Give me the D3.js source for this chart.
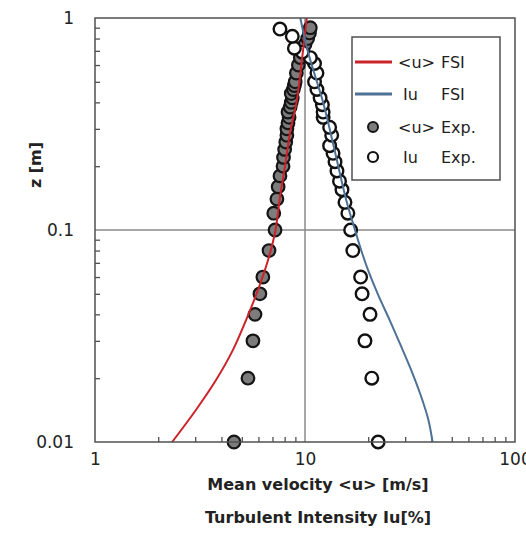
<!DOCTYPE html>
<html>
<head>
<meta charset="utf-8">
<script src="https://cdn.jsdelivr.net/npm/d3@7"></script>
<style>
	body { margin: 0; background: #fff; }
	svg { display: block; font-family: 'DejaVu Sans', sans-serif; }
	.lbl { white-space: pre; }
</style>
</head>
<body>
<div id="chart"></div>
<script>
// <u> FSI (simulation), mean velocity in m/s against height z in m
const fsiUZ = [0.01, 0.0142, 0.0196, 0.0272, 0.0376, 0.0521, 0.0722, 0.1, 0.143, 0.2, 0.29, 0.41, 0.63, 1.0];
const fsiU = [2.33, 3.03, 3.77, 4.54, 5.24, 5.97, 6.67, 7.24, 7.6, 8.03, 8.5, 9.15, 9.66, 10.2];

// Iu FSI (simulation), turbulent intensity in %
const fsiIuZ = [0.01, 0.0127, 0.0167, 0.0219, 0.0287, 0.0376, 0.0494, 0.0648, 0.0805, 0.1, 0.139, 0.2, 0.3, 0.4, 0.5, 0.7, 1.0];
const fsiIu = [40.5, 38.7, 35.5, 32.0, 28.5, 25.3, 22.3, 19.95, 18.5, 17.3, 15.7, 14.4, 13.1, 12.2, 11.4, 10.3, 9.5];

// <u> Exp. (measured)
const expUZ = [0.01, 0.02, 0.03, 0.04, 0.05, 0.06, 0.08, 0.1, 0.12, 0.14, 0.16, 0.18, 0.2, 0.22, 0.24, 0.26, 0.28, 0.3,
	0.32, 0.34, 0.36, 0.38, 0.4, 0.42, 0.44, 0.46, 0.48, 0.5, 0.55, 0.6, 0.65, 0.7, 0.75, 0.8, 0.85, 0.9];
const expU = [4.59, 5.35, 5.65, 5.78, 6.1, 6.3, 6.74, 7.2, 7.1, 7.35, 7.45, 7.6, 7.86, 7.9, 8.0, 8.1, 8.2, 8.2,
	8.3, 8.4, 8.3, 8.5, 8.6, 8.7, 8.6, 8.8, 8.9, 8.98, 9.1, 9.3, 9.5, 9.7, 10.0, 10.3, 10.5, 10.6];

// Iu Exp. (measured)
const expIuZ = [0.01, 0.02, 0.03, 0.04, 0.05, 0.06, 0.08, 0.1, 0.12, 0.135, 0.155, 0.17, 0.19, 0.21, 0.23, 0.25, 0.28,
	0.305, 0.34, 0.36, 0.39, 0.42, 0.46, 0.5, 0.55, 0.61, 0.65, 0.69, 0.72, 0.82, 0.887];
const expIu = [22.3, 20.8, 19.3, 20.4, 18.7, 18.4, 16.9, 16.5, 16.0, 15.5, 15.0, 14.6, 14.2, 13.9, 13.6, 13.1, 13.4,
	13.1, 12.2, 12.2, 12.1, 11.8, 11.4, 11.1, 11.4, 11.1, 10.6, 9.7, 8.9, 8.7, 7.6];

const xTicks = [1, 10, 100];
const yTicks = [0.01, 0.1, 1];
const xMinor = [2, 3, 4, 5, 6, 7, 8, 9, 20, 30, 40, 50, 60, 70, 80, 90];
const yMinor = [0.02, 0.03, 0.04, 0.05, 0.06, 0.07, 0.08, 0.09, 0.2, 0.3, 0.4, 0.5, 0.6, 0.7, 0.8, 0.9];
const legendLabels = [['<u>', 'FSI'], [' Iu', 'FSI'], ['<u>', 'Exp.'], [' Iu', 'Exp.']];
const xTitles = ['Mean velocity <u> [m/s]', 'Turbulent Intensity Iu[%]'];
const yTitle = 'z [m]';

const W = 526, H = 536;
const plot = {left: 95, right: 515, top: 18, bottom: 442};
const red = '#cc2229', blue = '#4e7196', axisColor = '#505050';

const svg = d3.select('#chart').append('svg')
	.attr('width', W)
	.attr('height', H);

const x = d3.scaleLog().domain([1, 100]).range([plot.left, plot.right]);
const y = d3.scaleLog().domain([0.01, 1]).range([plot.bottom, plot.top]);

// grid at the decade in the middle
svg.append('line')
	.attr('x1', x(10)).attr('x2', x(10))
	.attr('y1', plot.top).attr('y2', plot.bottom)
	.attr('stroke', '#8a8a8a').attr('stroke-width', 1.5);
svg.append('line')
	.attr('x1', plot.left).attr('x2', plot.right)
	.attr('y1', y(0.1)).attr('y2', y(0.1))
	.attr('stroke', '#8a8a8a').attr('stroke-width', 1.5);

// minor ticks pointing into the plot
const _minorAxis = (axis) => (g) => {
	g.call(axis);
	g.select('.domain').remove();
	g.selectAll('line').attr('stroke', axisColor).attr('stroke-width', 1.3);
	g.selectAll('text').remove();
};
svg.append('g')
	.attr('transform', `translate(0, ${plot.bottom})`)
	.call(_minorAxis(d3.axisBottom(x).tickValues(xMinor).tickSize(-5)));
svg.append('g')
	.attr('transform', `translate(${plot.left}, 0)`)
	.call(_minorAxis(d3.axisLeft(y).tickValues(yMinor).tickSize(-5)));

// tick labels
const _labelAxis = (axis) => (g) => {
	g.call(axis);
	g.select('.domain').remove();
	g.selectAll('line').remove();
	g.selectAll('text')
		.attr('font-family', 'DejaVu Sans, sans-serif')
		.attr('font-size', 17)
		.attr('fill', '#222');
};
svg.append('g')
	.attr('transform', `translate(0, ${plot.bottom})`)
	.call(_labelAxis(d3.axisBottom(x).tickValues(xTicks).tickSize(0).tickPadding(11).tickFormat(d3.format('d'))));
svg.append('g')
	.attr('transform', `translate(${plot.left}, 0)`)
	.call(_labelAxis(d3.axisLeft(y).tickValues(yTicks).tickSize(0).tickPadding(21).tickFormat(d => String(d))));

// measured points
const _points = (zs, vs) => zs.map((z, i) => ({z, v: vs[i]}));
svg.append('g')
	.selectAll('circle')
	.data(_points(expUZ, expU))
	.enter()
	.append('circle')
	.attr('cx', d => x(d.v))
	.attr('cy', d => y(d.z))
	.attr('r', 6.3)
	.attr('fill', '#7c7c7c')
	.attr('stroke', '#151515')
	.attr('stroke-width', 2.2);
svg.append('g')
	.selectAll('circle')
	.data(_points(expIuZ, expIu))
	.enter()
	.append('circle')
	.attr('cx', d => x(d.v))
	.attr('cy', d => y(d.z))
	.attr('r', 6.3)
	.attr('fill', '#fff')
	.attr('stroke', '#111')
	.attr('stroke-width', 2.4);

// simulated profiles
const line = d3.line()
	.x(d => x(d.v))
	.y(d => y(d.z))
	.curve(d3.curveCatmullRom);
svg.append('path')
	.attr('d', line(_points(fsiUZ, fsiU)))
	.attr('fill', 'none')
	.attr('stroke', red)
	.attr('stroke-width', 2);
svg.append('path')
	.attr('d', line(_points(fsiIuZ, fsiIu)))
	.attr('fill', 'none')
	.attr('stroke', blue)
	.attr('stroke-width', 2);

// plot border
svg.append('rect')
	.attr('x', plot.left).attr('y', plot.top)
	.attr('width', plot.right - plot.left)
	.attr('height', plot.bottom - plot.top)
	.attr('fill', 'none')
	.attr('stroke', axisColor)
	.attr('stroke-width', 1.5);

// legend
const legend = svg.append('g');
legend.append('rect')
	.attr('x', 352).attr('y', 37)
	.attr('width', 148).attr('height', 143)
	.attr('fill', '#fff')
	.attr('stroke', axisColor)
	.attr('stroke-width', 1.5);
const rowY = [62, 94, 127, 157];
legend.append('line')
	.attr('x1', 355).attr('x2', 392).attr('y1', rowY[0]).attr('y2', rowY[0])
	.attr('stroke', red).attr('stroke-width', 3);
legend.append('line')
	.attr('x1', 355).attr('x2', 392).attr('y1', rowY[1]).attr('y2', rowY[1])
	.attr('stroke', blue).attr('stroke-width', 3);
legend.append('circle')
	.attr('cx', 373).attr('cy', rowY[2]).attr('r', 5)
	.attr('fill', '#7c7c7c').attr('stroke', '#151515').attr('stroke-width', 2);
legend.append('circle')
	.attr('cx', 373).attr('cy', rowY[3]).attr('r', 5)
	.attr('fill', '#fff').attr('stroke', '#111').attr('stroke-width', 2.2);
legendLabels.forEach((parts, i) => {
	const t = legend.append('text')
		.attr('class', 'lbl')
		.attr('y', rowY[i])
		.attr('dy', '0.36em')
		.attr('font-size', 16)
		.attr('fill', '#222');
	t.append('tspan').attr('x', 398).text(parts[0]);
	t.append('tspan').attr('x', 441).text(parts[1]);
});

// axis titles
xTitles.forEach((title, i) => {
	svg.append('text')
		.attr('x', 318)
		.attr('y', 490 + i * 33)
		.attr('text-anchor', 'middle')
		.attr('font-size', 16)
		.attr('font-weight', 'bold')
		.attr('fill', '#222')
		.text(title);
});
svg.append('text')
	.attr('transform', 'translate(41, 165) rotate(-90)')
	.attr('text-anchor', 'middle')
	.attr('font-size', 16)
	.attr('font-weight', 'bold')
	.attr('fill', '#222')
	.text(yTitle);
</script>
</body>
</html>
